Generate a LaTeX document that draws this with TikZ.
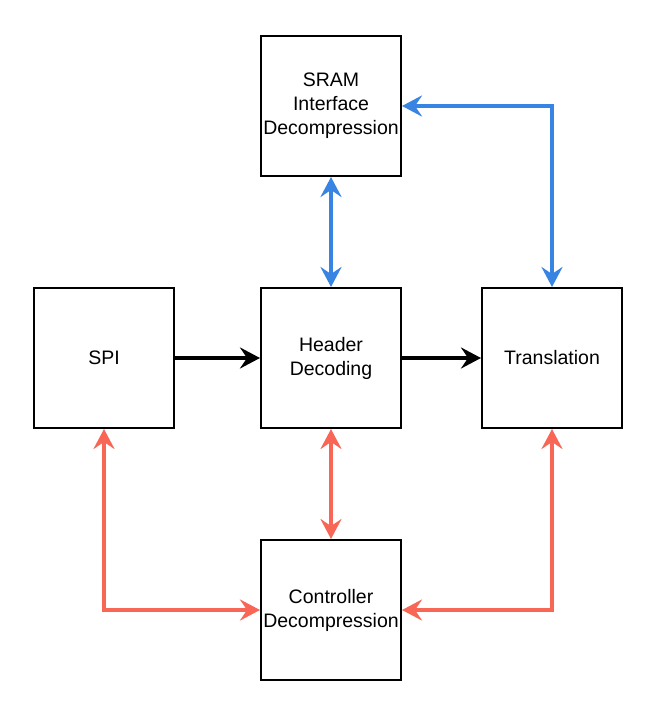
\documentclass[tikz,border=0pt]{standalone}
\usepackage{fontspec}
\setmainfont{Liberation Sans}
\usetikzlibrary{arrows.meta}
\definecolor{busblue}{RGB}{56,132,226}
\definecolor{busred}{RGB}{248,102,86}

\begin{document}
\begin{tikzpicture}[x=1pt,y=-1pt,
    >={Stealth[length=20pt,width=21pt,inset=7pt]},
    block/.style={draw,line width=2pt,minimum size=140pt,inner sep=0pt,
        align=center,font=\fontsize{19.5}{24}\selectfont},
    flow/.style={line width=3.5pt,->},
    bus/.style={line width=4pt,<->}]
\useasboundingbox (0,0) rectangle (653,703);

% Define the blocks
\node[block] (sram) at (331,106) {SRAM\\Interface\\Decompression};
\node[block] (spi) at (104,358) {SPI};
\node[block] (header) at (331,358) {Header\\Decoding};
\node[block] (trans) at (552,358) {Translation};
\node[block] (ctrl) at (331,610) {Controller\\Decompression};

% Data path
\draw[flow] (spi) -- (header);
\draw[flow] (header) -- (trans);

% SRAM links
\draw[bus,busblue] (sram) -- (header);
\draw[bus,busblue] (sram.east) -| (trans.north);

% Controller links
\draw[bus,busred] (header) -- (ctrl);
\draw[bus,busred] (spi.south) |- (ctrl.west);
\draw[bus,busred] (trans.south) |- (ctrl.east);
\end{tikzpicture}
\end{document}
